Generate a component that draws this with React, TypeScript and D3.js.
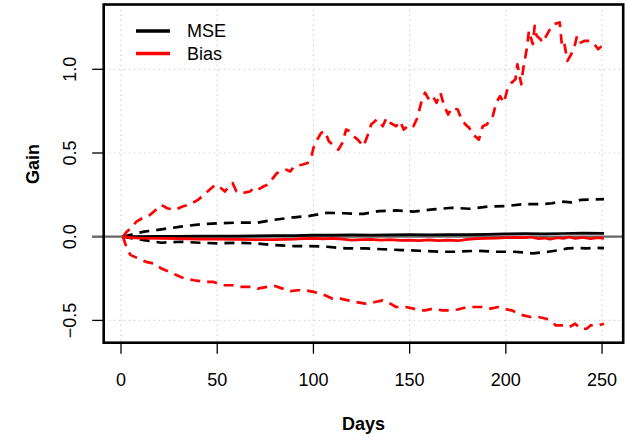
import React from "react";
import * as d3 from "d3";

const xTicks = [0, 50, 100, 150, 200, 250];
const yTicks = [-0.5, 0, 0.5, 1.0];
const yTickLabels = ["\u22120.5", "0.0", "0.5", "1.0"];
const legendLabels = ["MSE", "Bias"];
const legendColors = ["#000000", "#ff0000"];

// [day, value]
const biasUpper: [number, number][] = [
  [1, 0], [3, 0.03], [5, 0.05], [8, 0.09], [11, 0.11], [15, 0.13], [18, 0.16], [21, 0.19], [24, 0.17],
  [28, 0.16], [32, 0.18], [36, 0.195], [40, 0.22], [43, 0.25], [46, 0.28], [49, 0.31], [52, 0.29],
  [54, 0.27], [56, 0.3], [58, 0.32], [60, 0.27], [63, 0.26], [67, 0.27], [69, 0.29], [71, 0.28],
  [74, 0.3], [76, 0.31], [79, 0.35], [81, 0.38], [84, 0.39], [86, 0.4], [88, 0.39], [90, 0.42],
  [94, 0.43], [97, 0.44], [99, 0.48], [100, 0.53], [102, 0.58], [104, 0.62], [106, 0.63], [108, 0.57],
  [110, 0.55], [113, 0.52], [115, 0.56], [117, 0.64], [119, 0.63], [121, 0.6], [123, 0.58], [126, 0.54],
  [128, 0.6], [130, 0.67], [133, 0.7], [136, 0.66], [138, 0.71], [140, 0.68], [143, 0.66], [145, 0.69],
  [147, 0.64], [150, 0.67], [152, 0.66], [154, 0.71], [156, 0.8], [158, 0.86], [160, 0.82], [162, 0.84],
  [164, 0.8], [166, 0.86], [168, 0.78], [170, 0.73], [172, 0.77], [175, 0.76], [177, 0.7], [179, 0.67],
  [181, 0.65], [183, 0.61], [186, 0.58], [188, 0.66], [190, 0.67], [193, 0.71], [195, 0.8], [197, 0.84],
  [199, 0.8], [201, 0.89], [203, 0.92], [205, 0.94], [206, 1.03], [208, 0.91], [209, 1.0], [211, 1.13],
  [212, 1.23], [214, 1.15], [215, 1.26], [216, 1.2], [218, 1.18], [219, 1.16], [221, 1.2], [223, 1.24],
  [225, 1.27], [228, 1.28], [229, 1.16], [230, 1.18], [232, 1.05], [234, 1.09], [236, 1.15], [237, 1.2],
  [239, 1.16], [241, 1.17], [244, 1.17], [246, 1.15], [248, 1.12], [251, 1.15],
];

const biasLower: [number, number][] = [
  [1, 0], [3, -0.07], [5, -0.11], [9, -0.13], [13, -0.15], [17, -0.16], [21, -0.19], [25, -0.21],
  [29, -0.23], [33, -0.25], [38, -0.26], [44, -0.27], [48, -0.27], [53, -0.29], [58, -0.29], [62, -0.3],
  [67, -0.3], [71, -0.31], [76, -0.3], [80, -0.295], [84, -0.31], [88, -0.325], [92, -0.32], [96, -0.32],
  [100, -0.33], [102, -0.335], [106, -0.35], [110, -0.37], [114, -0.37], [118, -0.38], [122, -0.39],
  [127, -0.4], [132, -0.39], [136, -0.38], [140, -0.4], [143, -0.42], [148, -0.42], [152, -0.43],
  [156, -0.44], [158, -0.44], [162, -0.43], [167, -0.44], [171, -0.44], [175, -0.435], [180, -0.42],
  [184, -0.42], [188, -0.42], [192, -0.43], [196, -0.42], [199, -0.43], [203, -0.44], [205, -0.45],
  [209, -0.47], [213, -0.48], [217, -0.48], [221, -0.49], [224, -0.51], [226, -0.53], [230, -0.53],
  [233, -0.54], [236, -0.52], [239, -0.55], [242, -0.55], [244, -0.53], [248, -0.53], [251, -0.52],
];

const biasMean: [number, number][] = [
  [1, 0], [5, -0.005], [10, -0.008], [20, -0.01], [30, -0.012], [40, -0.014], [50, -0.015], [60, -0.016],
  [70, -0.017], [80, -0.018], [90, -0.015], [95, -0.012], [100, -0.01], [105, -0.013], [110, -0.01],
  [115, -0.015], [120, -0.02], [125, -0.018], [130, -0.016], [135, -0.02], [140, -0.018], [145, -0.022],
  [150, -0.02], [155, -0.023], [160, -0.019], [165, -0.024], [170, -0.02], [175, -0.024], [180, -0.016],
  [185, -0.012], [190, -0.01], [195, -0.008], [200, -0.006], [205, -0.004], [210, -0.006], [213, -0.002],
  [217, -0.012], [220, -0.008], [223, -0.014], [227, -0.006], [230, -0.01], [233, -0.002], [236, -0.01],
  [240, -0.004], [244, -0.012], [248, -0.006], [251, -0.01],
];

const mseUpper: [number, number][] = [
  [1, 0], [6, 0.015], [12, 0.03], [21, 0.044], [31, 0.06], [41, 0.074], [50, 0.08], [60, 0.084],
  [71, 0.084], [79, 0.1], [90, 0.116], [98, 0.124], [107, 0.143], [116, 0.14], [126, 0.136], [134, 0.153],
  [143, 0.157], [152, 0.15], [162, 0.163], [172, 0.173], [181, 0.167], [191, 0.18], [200, 0.183],
  [210, 0.195], [219, 0.195], [224, 0.2], [229, 0.21], [234, 0.205], [239, 0.22], [244, 0.222], [251, 0.225],
];

const mseLower: [number, number][] = [
  [1, 0], [6, -0.01], [12, -0.02], [21, -0.036], [31, -0.03], [41, -0.036], [50, -0.04], [60, -0.036],
  [70, -0.04], [79, -0.05], [90, -0.056], [98, -0.056], [107, -0.06], [117, -0.07], [127, -0.07],
  [136, -0.075], [146, -0.08], [155, -0.084], [166, -0.09], [174, -0.09], [185, -0.084], [194, -0.09],
  [204, -0.09], [210, -0.095], [214, -0.1], [218, -0.095], [222, -0.09], [228, -0.08], [232, -0.07],
  [237, -0.068], [242, -0.07], [247, -0.066], [251, -0.068],
];

const mseMean: [number, number][] = [
  [1, 0], [10, 0.001], [20, 0.002], [30, 0.002], [40, 0.003], [50, 0.004], [60, 0.004], [70, 0.005],
  [80, 0.006], [90, 0.007], [100, 0.009], [110, 0.01], [120, 0.011], [130, 0.01], [140, 0.011],
  [150, 0.012], [160, 0.011], [170, 0.012], [180, 0.013], [190, 0.014], [200, 0.017], [210, 0.018],
  [220, 0.017], [230, 0.019], [240, 0.021], [251, 0.02],
];

const W = 627;
const H = 437;
const L = 103.7, R = 623.2, T = 4.5, B = 342.7;
const FONT = "'Liberation Sans', Arial, Helvetica, sans-serif";

export default function App() {
  const x = d3.scaleLinear().domain([-9, 261]).range([L, R]);
  const y = d3.scaleLinear().domain([-0.6332, 1.3871]).range([B, T]);
  const line = d3
    .line<[number, number]>()
    .x((d) => x(d[0]))
    .y((d) => y(d[1]));

  const series = [
    { data: mseUpper, color: "#000", dash: "10 7", w: 2.7 },
    { data: mseLower, color: "#000", dash: "10 7", w: 2.7 },
    { data: biasUpper, color: "#ff0000", dash: "10 7", w: 2.7 },
    { data: biasLower, color: "#ff0000", dash: "10 7", w: 2.7 },
    { data: mseMean, color: "#000", dash: undefined, w: 2.7 },
    { data: biasMean, color: "#ff0000", dash: undefined, w: 2.7 },
  ];

  return (
    <svg
      width={W}
      height={H}
      style={{ position: "absolute", left: 0, top: 0, background: "#fff" }}
      fontFamily={FONT}
    >
      <rect x={0} y={0} width={W} height={H} fill="#fff" />
      {/* grid */}
      {xTicks.map((t) => (
        <line key={"gx" + t} x1={x(t)} x2={x(t)} y1={T} y2={B} stroke="#d3d3d3" strokeWidth={1.2} strokeDasharray="1.5 3.5" />
      ))}
      {yTicks.map((t) => (
        <line key={"gy" + t} x1={L} x2={R} y1={y(t)} y2={y(t)} stroke="#d3d3d3" strokeWidth={1.2} strokeDasharray="1.5 3.5" />
      ))}
      {/* axis ticks */}
      {xTicks.map((t) => (
        <g key={"tx" + t}>
          <line x1={x(t)} x2={x(t)} y1={B} y2={B + 11} stroke="#000" strokeWidth={1.3} />
          <text x={x(t)} y={380} fontSize={18} textAnchor="middle" dominantBaseline="central">
            {t}
          </text>
        </g>
      ))}
      {yTicks.map((t, i) => (
        <g key={"ty" + t}>
          <line x1={L - 11.5} x2={L} y1={y(t)} y2={y(t)} stroke="#000" strokeWidth={1.3} />
          <text
            x={0}
            y={0}
            fontSize={18}
            textAnchor="middle"
            dominantBaseline="central"
            transform={`translate(70,${y(t)}) rotate(-90)`}
          >
            {yTickLabels[i]}
          </text>
        </g>
      ))}
      {/* zero line */}
      <line x1={92} x2={R} y1={y(0)} y2={y(0)} stroke="#666" strokeWidth={2.2} />
      {/* series */}
      {series.map((s, i) => (
        <path
          key={"s" + i}
          d={line(s.data) || ""}
          fill="none"
          stroke={s.color}
          strokeWidth={s.w}
          strokeDasharray={s.dash}
          strokeLinejoin="round"
        />
      ))}
      {/* box */}
      <rect x={L} y={T} width={R - L} height={B - T} fill="none" stroke="#000" strokeWidth={2.6} />
      {/* legend */}
      {legendLabels.map((lab, i) => (
        <g key={"lg" + lab}>
          <line x1={136} x2={170} y1={31 + i * 22.5} y2={31 + i * 22.5} stroke={legendColors[i]} strokeWidth={3.5} />
          <text x={187} y={31 + i * 22.5} fontSize={18} dominantBaseline="central">
            {lab}
          </text>
        </g>
      ))}
      {/* axis titles */}
      <text x={(L + R) / 2} y={424} fontSize={18} fontWeight="bold" textAnchor="middle" dominantBaseline="central">
        Days
      </text>
      <text
        x={0}
        y={0}
        fontSize={18}
        fontWeight="bold"
        textAnchor="middle"
        dominantBaseline="central"
        transform={`translate(33,164) rotate(-90)`}
      >
        Gain
      </text>
    </svg>
  );
}
